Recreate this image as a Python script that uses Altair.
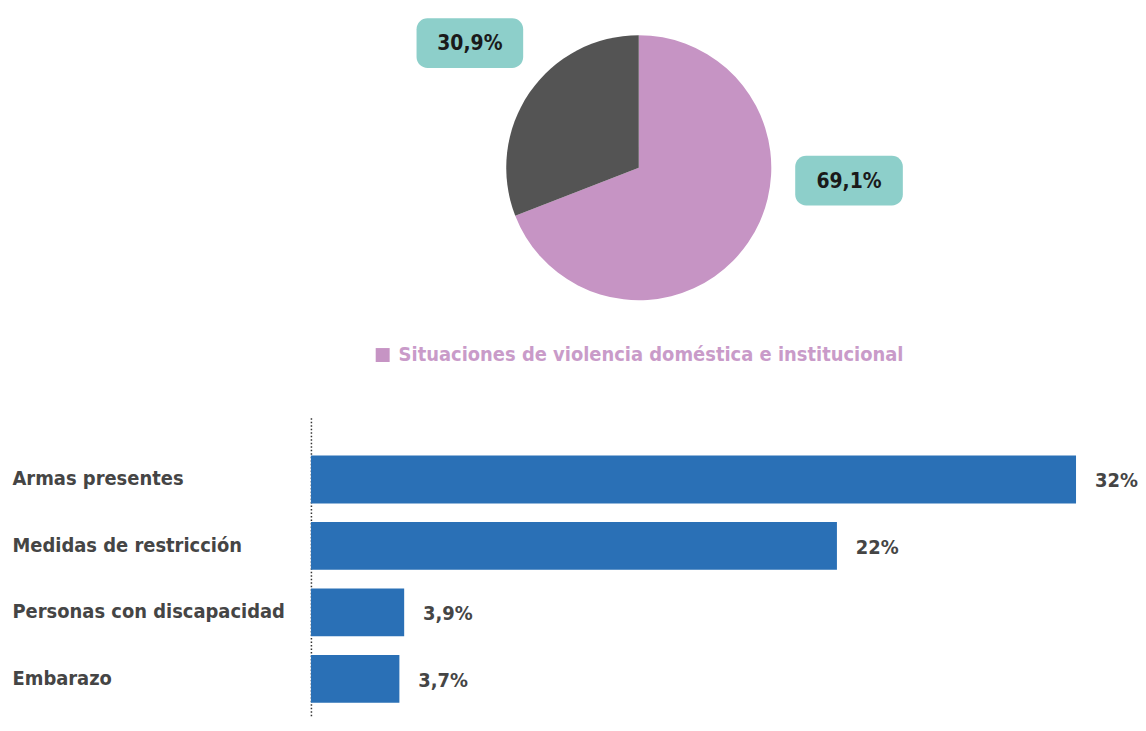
import altair as alt
import pandas as pd

# ---- data ----
pie_categories = ["Situaciones de violencia doméstica e institucional", "Otras situaciones"]
pie_values = [69.1, 30.9]
pie_labels = ["69,1%", "30,9%"]
pie_colors = ["#c694c4", "#545454"]

bar_categories = ["Armas presentes", "Medidas de restricción", "Personas con discapacidad", "Embarazo"]
bar_values = [32, 22, 3.9, 3.7]
bar_labels = ["32%", "22%", "3,9%", "3,7%"]

FONT = "DejaVu Sans Condensed, Roboto, sans-serif"
TEXT_COLOR = "#454545"
TEAL = "#8dcfca"

pie_df = pd.DataFrame({
    "categoria": pie_categories,
    "valor": pie_values,
    "etiqueta": pie_labels,
    "orden": list(range(len(pie_values))),
})

base = alt.Chart(pie_df)
arcs = base.mark_arc(outerRadius=133, strokeWidth=0).encode(
    theta=alt.Theta("valor:Q", stack=True),
    order=alt.Order("orden:O"),
    color=alt.Color(
        "categoria:N",
        scale=alt.Scale(domain=pie_categories, range=pie_colors),
        legend=alt.Legend(
            values=[pie_categories[0]], orient="none", legendX=62, legendY=337,
            title=None, symbolType="square", symbolSize=196, symbolStrokeWidth=0,
            labelFontSize=20, labelFont=FONT, labelFontWeight="bold",
            labelColor="#c99bc9", labelLimit=0, labelOffset=6,
        ),
    ),
    x=alt.value(329), y=alt.value(159),
)

def label_box(idx, x0, x1, y0, y1):
    sub = base.transform_filter(alt.datum.orden == idx)
    box = sub.mark_rect(cornerRadius=11, color=TEAL).encode(
        x=alt.value(x0), x2=alt.value(x1), y=alt.value(y0), y2=alt.value(y1)
    )
    txt = sub.mark_text(font=FONT, fontSize=21, fontWeight="bold", color="#1a1a1a",
                        baseline="middle", align="center").encode(
        text="etiqueta:N", x=alt.value((x0 + x1) / 2), y=alt.value((y0 + y1) / 2 + 1)
    )
    return box + txt

pie_chart = alt.layer(
    arcs,
    label_box(1, 106, 213, 9, 59),
    label_box(0, 486, 594, 147, 197),
).properties(width=654, height=380)

bar_df = pd.DataFrame({"categoria": bar_categories, "valor": bar_values, "etiqueta": bar_labels})

x_enc = alt.X("valor:Q", scale=alt.Scale(domain=[0, 32.8], nice=False), axis=None)
y_enc = alt.Y(
    "categoria:N", sort=bar_categories,
    scale=alt.Scale(paddingInner=0.28, paddingOuter=0.389, align=0.73),
    axis=alt.Axis(
        title=None, labelAlign="left", labelBaseline="middle", labelPadding=300,
        labelFont=FONT, labelFontSize=20, labelFontWeight="bold", labelColor=TEXT_COLOR,
        ticks=False, domain=True, domainDash=[1.5, 2], domainColor="#333333",
        domainWidth=1.5, labelLimit=0, grid=False,
    ),
)
bars = alt.Chart(bar_df).mark_bar(color="#2a70b6").encode(x=x_enc, y=y_enc)
values_txt = alt.Chart(bar_df).mark_text(
    align="left", baseline="middle", dx=19, dy=2, font=FONT, fontSize=20,
    fontWeight="bold", color=TEXT_COLOR,
).encode(x=x_enc, y=alt.Y("categoria:N", sort=bar_categories), text="etiqueta:N")

bar_chart = alt.layer(bars, values_txt).properties(width=787, height=300)

chart = alt.vconcat(pie_chart, bar_chart, spacing=30).properties(
    padding={"left": 4, "top": 0, "right": 0, "bottom": 0}
).configure_view(stroke=None)

chart.save("out.html", embed_options={"renderer": "svg", "actions": False})
